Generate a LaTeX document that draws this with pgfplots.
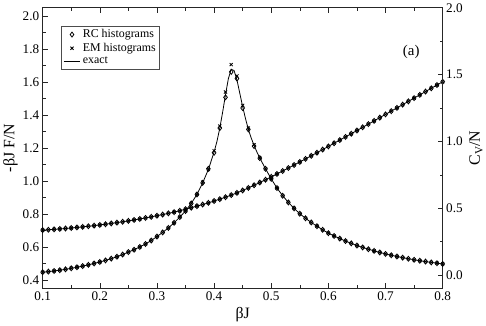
\documentclass[border=0pt]{standalone}
\usepackage{fontspec}
\setmainfont{Liberation Serif}
\usepackage{pgfplots}
\pgfplotsset{compat=1.18}
\usepackage{pgfplotstable}

% b = beta J, F = -beta F/N (left axis), C = C_V/N (right axis)
\pgfplotstableread{
b    F      C      Crc    Cem
0.10 0.7032 0.0210 0.0210 0.0210
0.11 0.7053 0.0256 0.0256 0.0256
0.12 0.7077 0.0305 0.0305 0.0305
0.13 0.7103 0.0362 0.0362 0.0362
0.14 0.7130 0.0427 0.0427 0.0427
0.15 0.7160 0.0504 0.0504 0.0504
0.16 0.7193 0.0582 0.0582 0.0582
0.17 0.7227 0.0669 0.0669 0.0669
0.18 0.7264 0.0762 0.0762 0.0762
0.19 0.7303 0.0866 0.0866 0.0866
0.20 0.7344 0.0977 0.0977 0.0977
0.21 0.7387 0.1095 0.1095 0.1095
0.22 0.7436 0.1227 0.1227 0.1227
0.23 0.7485 0.1372 0.1372 0.1372
0.24 0.7537 0.1532 0.1532 0.1532
0.25 0.7591 0.1720 0.1720 0.1720
0.26 0.7648 0.1896 0.1896 0.1896
0.27 0.7708 0.2101 0.2101 0.2101
0.28 0.7770 0.2327 0.2327 0.2327
0.29 0.7834 0.2581 0.2581 0.2581
0.30 0.7904 0.2880 0.2880 0.2880
0.31 0.7972 0.3190 0.3190 0.3190
0.32 0.8046 0.3526 0.3526 0.3526
0.33 0.8121 0.3908 0.3908 0.3908
0.34 0.8202 0.4336 0.4336 0.4336
0.35 0.8300 0.4790 0.4790 0.4790
0.36 0.8390 0.5360 0.5360 0.5360
0.37 0.8484 0.6030 0.6030 0.6030
0.38 0.8581 0.6900 0.6900 0.6950
0.39 0.8683 0.7900 0.7950 0.7900
0.40 0.8794 0.9200 0.9150 0.9300
0.41 0.8906 1.1000 1.1000 1.1150
0.42 0.9026 1.3500 1.3300 1.3700
0.43 0.9153 1.5400 1.5200 1.5750
0.44 0.9287 1.4600 1.4700 1.4900
0.45 0.9433 1.2600 1.2500 1.2700
0.46 0.9588 1.0900 1.0900 1.1000
0.47 0.9749 0.9700 0.9650 0.9750
0.48 0.9915 0.8750 0.8750 0.8750
0.49 1.0085 0.7950 0.7950 0.7950
0.50 1.0258 0.7200 0.7200 0.7200
0.51 1.0434 0.6510 0.6510 0.6510
0.52 1.0612 0.5937 0.5937 0.5937
0.53 1.0793 0.5434 0.5434 0.5434
0.54 1.0976 0.4987 0.4987 0.4987
0.55 1.1160 0.4590 0.4590 0.4590
0.56 1.1346 0.4245 0.4245 0.4245
0.57 1.1533 0.3935 0.3935 0.3935
0.58 1.1721 0.3655 0.3655 0.3655
0.59 1.1911 0.3385 0.3385 0.3385
0.60 1.2101 0.3134 0.3134 0.3134
0.61 1.2293 0.2925 0.2925 0.2925
0.62 1.2485 0.2726 0.2726 0.2726
0.63 1.2678 0.2542 0.2542 0.2542
0.64 1.2871 0.2370 0.2370 0.2370
0.65 1.3065 0.2208 0.2208 0.2208
0.66 1.3260 0.2066 0.2066 0.2066
0.67 1.3455 0.1932 0.1932 0.1932
0.68 1.3650 0.1808 0.1808 0.1808
0.69 1.3846 0.1690 0.1690 0.1690
0.70 1.4042 0.1581 0.1581 0.1581
0.71 1.4239 0.1481 0.1481 0.1481
0.72 1.4436 0.1388 0.1388 0.1388
0.73 1.4633 0.1301 0.1301 0.1301
0.74 1.4830 0.1219 0.1219 0.1219
0.75 1.5028 0.1143 0.1143 0.1143
0.76 1.5225 0.1072 0.1072 0.1072
0.77 1.5423 0.1006 0.1006 0.1006
0.78 1.5621 0.0944 0.0944 0.0944
0.79 1.5820 0.0885 0.0885 0.0885
0.80 1.6018 0.0830 0.0830 0.0830
}\ising

% finer exact C_V/N around the peak
\pgfplotstableread{
b     C
0.400 0.920
0.405 1.000
0.410 1.100
0.415 1.220
0.420 1.350
0.425 1.470
0.430 1.540
0.435 1.530
0.440 1.460
0.445 1.360
0.450 1.260
0.455 1.170
0.460 1.090
0.465 1.025
0.470 0.970
0.475 0.920
0.480 0.875
}\peak

\begin{document}
\begin{tikzpicture}
\pgfplotsset{
  every axis/.append style={
    scale only axis, width=402bp, height=282bp,
    xmin=0.1, xmax=0.8,
    tick align=inside,
    major tick length=5bp, minor tick length=3bp,
    axis line style={line width=0.8pt, black!85},
    every tick/.style={black!85, line width=0.6pt},
    /pgf/number format/assume math mode=true,
    /pgf/number format/fixed, /pgf/number format/fixed zerofill,
    /pgf/number format/precision=1,
    tick label style={font=\fontsize{13.3}{14}\selectfont},
    label style={font=\fontsize{16}{16}\selectfont},
  },
  rc/.style={only marks, mark=diamond, mark size=2.5pt, mark options={line width=0.8pt, black}},
  em/.style={only marks, mark=x, mark size=2.2pt, mark options={line width=0.8pt, black}},
  ex/.style={no marks, black, line width=0.8pt},
}
\begin{axis}[
  ymin=0.35, ymax=2.05,
  ytick={0.4,0.6,0.8,1.0,1.2,1.4,1.6,1.8,2.0}, minor y tick num=1,
  xtick={0.1,0.2,0.3,0.4,0.5,0.6,0.7,0.8}, minor x tick num=1,
  ytick pos=left, xtick pos=both,
  xlabel={βJ}, ylabel={-βJ F/N},
  ylabel style={yshift=-2pt},
  legend style={at={(0.047,0.935)}, anchor=north west, draw=black!70,
    font=\fontsize{12}{12}\selectfont, inner sep=1.5pt, row sep=0pt},
  legend cell align=left,
]
\addplot[rc] table[x=b, y=F] {\ising};
\addlegendentry{RC histograms}
\addplot[em] table[x=b, y=F] {\ising};
\addlegendentry{EM histograms}
\addplot[ex] table[x=b, y=F] {\ising};
\addlegendentry{exact}
\node[font=\fontsize{15}{15}\selectfont] at (axis cs:0.745,1.78) {(a)};
\end{axis}

\begin{axis}[
  ymin=-0.1, ymax=2.0,
  axis x line=none, axis y line*=right,
  ytick={0,0.5,1.0,1.5,2.0}, minor y tick num=1,
  ylabel={C\textsubscript{V}/N},
]
\addplot[ex, restrict x to domain=0.1:0.4] table[x=b, y=C] {\ising};
\addplot[ex] table[x=b, y=C] {\peak};
\addplot[ex, restrict x to domain=0.48:0.8] table[x=b, y=C] {\ising};
\addplot[rc] table[x=b, y=Crc] {\ising};
\addplot[em] table[x=b, y=Cem] {\ising};
\end{axis}
\end{tikzpicture}
\end{document}
